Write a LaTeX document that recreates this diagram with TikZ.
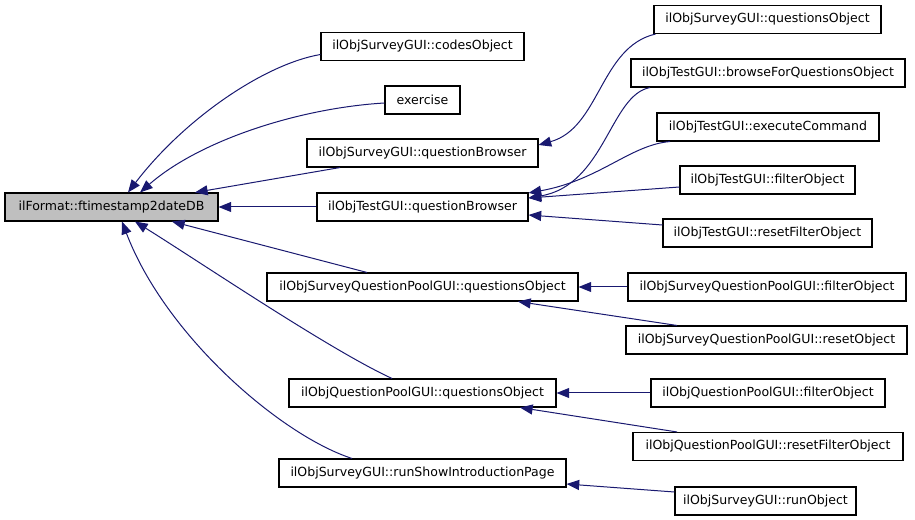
\documentclass[tikz,border=0pt]{standalone}
\usepackage{fontspec}
\setmainfont{DejaVu Sans}
\usetikzlibrary{arrows.meta,calc}
\definecolor{edgeblue}{HTML}{191970}
\definecolor{maingray}{HTML}{BFBFBF}
\begin{document}
\begin{tikzpicture}[x=0.75pt,y=-0.75pt,
  fn/.style={draw=black, line width=0.8pt, fill=white, minimum height=21pt, inner xsep=1pt, inner ysep=0pt, font=\fontsize{9.4pt}{11pt}\selectfont},
  edge/.style={draw=edgeblue, line width=0.75pt, -{Triangle[length=9.5pt,width=7.5pt]}},
]
\useasboundingbox (0,0) rectangle (915,520);
% left / middle column
\node[fn, fill=maingray, minimum width=159.75pt] (main) at (111.5,207) {ilFormat::ftimestamp2dateDB};
\node[fn, minimum width=152.25pt] (codes) at (422.5,46.5) {ilObjSurveyGUI::codesObject};
\node[fn, minimum width=56.25pt] (exercise) at (422.5,100) {exercise};
\node[fn, minimum width=173.25pt] (sqb) at (422.5,153) {ilObjSurveyGUI::questionBrowser};
\node[fn, minimum width=158.25pt] (tqb) at (422.5,207) {ilObjTestGUI::questionBrowser};
\node[fn, minimum width=233.25pt] (sqpqo) at (422.5,287) {ilObjSurveyQuestionPoolGUI::questionsObject};
\node[fn, minimum width=200.25pt] (qpqo) at (422.5,393) {ilObjQuestionPoolGUI::questionsObject};
\node[fn, minimum width=215.25pt] (runshow) at (422.5,473) {ilObjSurveyGUI::runShowIntroductionPage};
% right column
\node[fn, minimum width=170.25pt] (sqo) at (767.5,19.5) {ilObjSurveyGUI::questionsObject};
\node[fn, minimum width=205.5pt] (browse) at (768,73) {ilObjTestGUI::browseForQuestionsObject};
\node[fn, minimum width=166.5pt] (exec) at (768,127) {ilObjTestGUI::executeCommand};
\node[fn, minimum width=131.25pt] (tfilter) at (767.5,180) {ilObjTestGUI::filterObject};
\node[fn, minimum width=156.75pt] (treset) at (767.5,233) {ilObjTestGUI::resetFilterObject};
\node[fn, minimum width=208.5pt] (sqpfilter) at (767,287) {ilObjSurveyQuestionPoolGUI::filterObject};
\node[fn, minimum width=210.75pt] (sqpreset) at (766.5,340) {ilObjSurveyQuestionPoolGUI::resetObject};
\node[fn, minimum width=175.5pt] (qpfilter) at (768,393) {ilObjQuestionPoolGUI::filterObject};
\node[fn, minimum width=202.5pt] (qpreset) at (768,446.5) {ilObjQuestionPoolGUI::resetFilterObject};
\node[fn, minimum width=135.75pt] (runobj) at (765.5,501) {ilObjSurveyGUI::runObject};
% edges into main
\draw[edge] ($(codes.west)+(0,8)$) .. controls (265,64) and (185,118) .. ($(main.north)+(16.5,0)$);
\draw[edge] ($(exercise.west)+(0,3)$) .. controls (300,108) and (200,140) .. ($(main.north)+(28.5,0)$);
\draw[edge] ($(sqb.south)+(-82.5,0)$) -- ($(main.north)+(83.5,0)$);
\draw[edge] (tqb.west) -- (main.east);
\draw[edge] ($(sqpqo.north)+(-55.5,0)$) -- ($(main.south)+(60.5,0)$);
\draw[edge] ($(qpqo.north)+(-30.5,0)$) .. controls (330,350) and (200,262) .. ($(main.south)+(23.5,0)$);
\draw[edge] ($(runshow.north)+(-70.5,0)$) .. controls (280,435) and (165,335) .. ($(main.south)+(10.5,0)$);
% right edges
\draw[edge] ($(sqo.south west)+(2,0)$) .. controls (600,47) and (600,128) .. ($(sqb.east)+(0,-8)$);
\draw[edge] ($(browse.south)+(-118,0)$) .. controls (610,95) and (605,185) .. ($(tqb.east)+(0,-9)$);
\draw[edge] ($(exec.south)+(-98,0)$) .. controls (630,145) and (600,180) .. ($(tqb.east)+(0,-14)$);
\draw[edge] ($(tfilter.west)+(0,7)$) -- ($(tqb.east)+(0,-9)$);
\draw[edge] ($(treset.west)+(0,-8)$) -- ($(tqb.east)+(0,8)$);
\draw[edge] (sqpfilter.west) -- (sqpqo.east);
\draw[edge] ($(sqpreset.north)+(-89.5,0)$) -- ($(sqpqo.south)+(95.5,0)$);
\draw[edge] (qpfilter.west) -- (qpqo.east);
\draw[edge] ($(qpreset.north)+(-91,0)$) -- ($(qpqo.south)+(97.5,0)$);
\draw[edge] ($(runobj.west)+(0,-9)$) -- ($(runshow.east)+(0,11)$);
\end{tikzpicture}
\end{document}
